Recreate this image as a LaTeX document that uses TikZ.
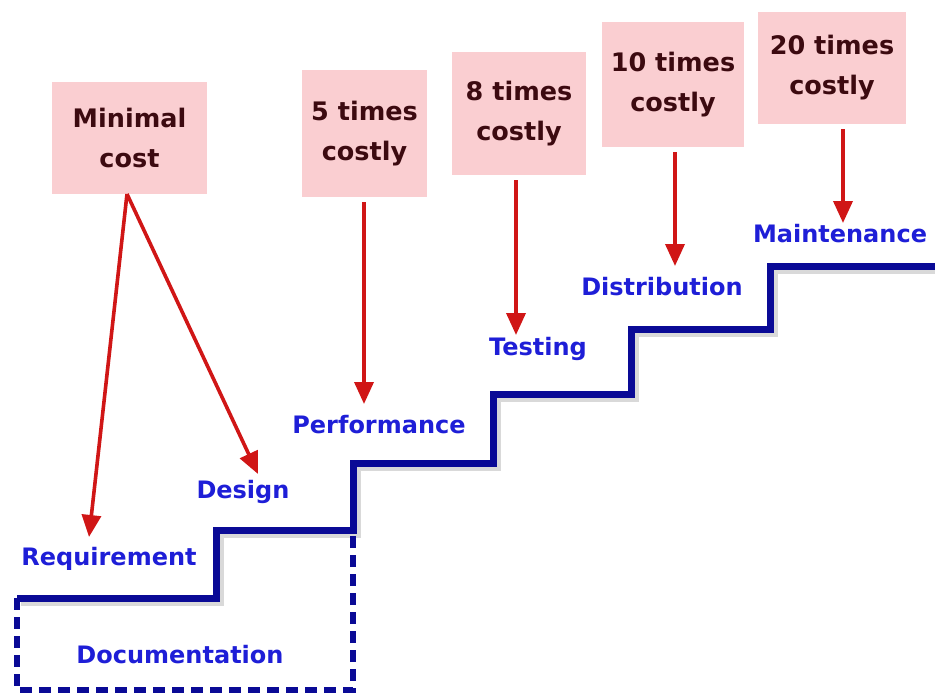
\documentclass[tikz,border=0pt]{standalone}
\usepackage{fontspec}
\setmainfont{DejaVu Sans}
\usetikzlibrary{arrows.meta}
\definecolor{boxfill}{RGB}{250,206,209}
\definecolor{boxtext}{RGB}{60,10,16}
\definecolor{lbl}{RGB}{30,30,215}
\definecolor{stairc}{RGB}{10,10,150}
\definecolor{arr}{RGB}{208,22,22}
\tikzset{
  costbox/.style={fill=boxfill, draw=none, align=center, inner sep=0pt,
    font=\bfseries\fontsize{25.5}{40}\selectfont, text=boxtext},
  phase/.style={anchor=base, inner sep=0pt, text=lbl,
    font=\bfseries\fontsize{24}{28}\selectfont},
  redarrow/.style={draw=arr, line width=3.6pt, shorten <=5pt,
    -{Triangle[length=22pt,width=19pt]}},
  stairline/.style={draw=stairc, line width=7pt, line join=miter},
  dashline/.style={draw=stairc, line width=5.5pt, dash pattern=on 12pt off 7pt},
  shadowline/.style={draw=black!15, line width=5pt}
}
\begin{document}
\begin{tikzpicture}[x=1pt,y=-1pt]
\useasboundingbox (0,0) rectangle (935,697);
% boxes
\node[costbox, minimum width=155pt, minimum height=112pt] (b1) at (129.5,137.5) {Minimal\\cost};
\node[costbox, minimum width=125pt, minimum height=127pt] (b2) at (364.5,133.5) {5 times\\costly};
\node[costbox, minimum width=134pt, minimum height=123pt] (b3) at (519,113.5) {8 times\\costly};
\node[costbox, minimum width=142pt, minimum height=125pt] (b4) at (673,84.5) {10 times\\costly};
\node[costbox, minimum width=148pt, minimum height=112pt] (b5) at (832,68) {20 times\\costly};
% stairs shadow
\draw[shadowline] (21,603) -- (221,603) -- (221,535) -- (358,535) -- (358,468) -- (498,468) -- (498,399) -- (636,399) -- (636,334) -- (775,334) -- (775,271) -- (935,271);
% stairs
\draw[stairline] (17,598) -- (216,598) -- (216,530) -- (353,530) -- (353,463) -- (493,463) -- (493,394) -- (631,394) -- (631,329) -- (770,329) -- (770,266) -- (938,266);
\draw[dashline] (17,598) -- (17,690) -- (353,690) -- (353,530);
% labels
\node[phase] (req) at (109,565) {Requirement};
\node[phase] (des) at (243,498) {Design};
\node[phase] (doc) at (180,663) {Documentation};
\node[phase] (perf) at (379,433) {Performance};
\node[phase] (test) at (538,355) {Testing};
\node[phase] (dist) at (662,295) {Distribution};
\node[phase] (maint) at (840,242) {Maintenance};
% arrow tips
\coordinate (s1) at (127,194);
\coordinate (t1a) at (89,537);
\coordinate (t1b) at (258,474);
\coordinate (t2) at (364,404);
\coordinate (t3) at (516,335);
\coordinate (t4) at (675,266);
\coordinate (t5) at (843,223);
% arrows
\draw[redarrow, shorten <=0pt] (s1) -- (t1a);
\draw[redarrow, shorten <=0pt] (s1) -- (t1b);
\draw[redarrow] (b2.south -| t2) -- (t2);
\draw[redarrow] (b3.south -| t3) -- (t3);
\draw[redarrow] (b4.south -| t4) -- (t4);
\draw[redarrow] (b5.south -| t5) -- (t5);
\end{tikzpicture}
\end{document}
